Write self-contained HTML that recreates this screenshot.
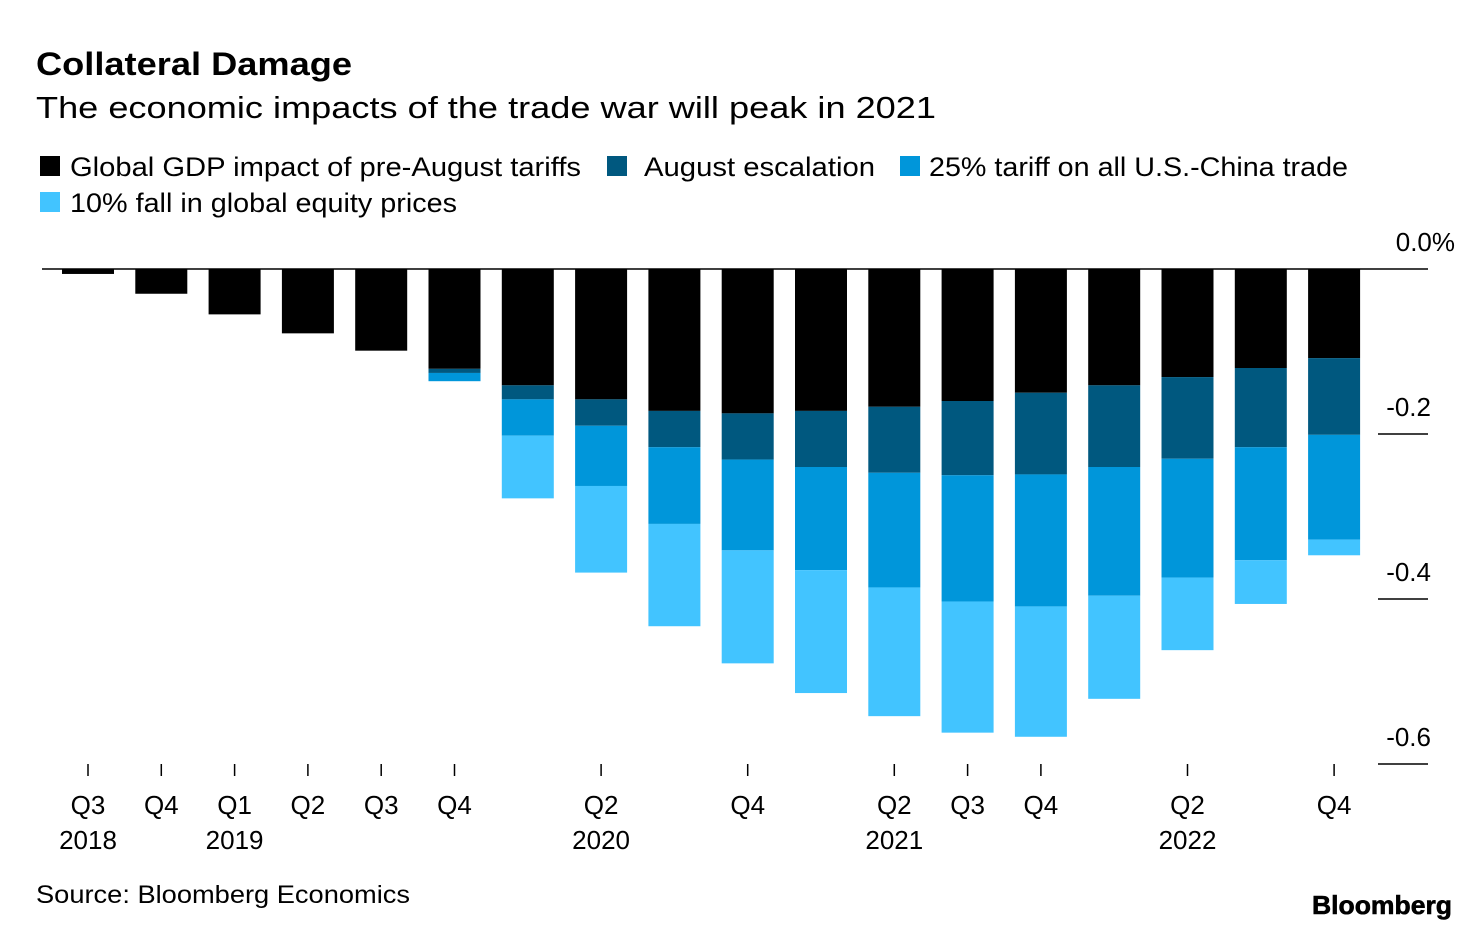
<!DOCTYPE html>
<html><head><meta charset="utf-8"><style>
body{margin:0;background:#fff;font-family:"Liberation Sans",Arial,sans-serif;}
svg text{font-family:"Liberation Sans",Arial,sans-serif;}
</style></head><body>
<svg id="c" width="1480" height="924" xmlns="http://www.w3.org/2000/svg">
<text x="36" y="75" font-size="32" font-weight="bold" fill="#000" textLength="316" lengthAdjust="spacingAndGlyphs">Collateral Damage</text>
<text x="36" y="118" font-size="31" fill="#000" textLength="900" lengthAdjust="spacingAndGlyphs">The economic impacts of the trade war will peak in 2021</text>
<g font-size="27">
<rect x="40" y="156" width="20" height="20" fill="#000"/>
<text x="70" y="176" textLength="511" lengthAdjust="spacingAndGlyphs">Global GDP impact of pre-August tariffs</text>
<rect x="607" y="156" width="20" height="20" fill="#00587f"/>
<text x="644" y="176" textLength="231" lengthAdjust="spacingAndGlyphs">August escalation</text>
<rect x="900" y="156" width="20" height="20" fill="#0096da"/>
<text x="929" y="176" textLength="419" lengthAdjust="spacingAndGlyphs">25% tariff on all U.S.-China trade</text>
<rect x="40" y="192" width="20" height="20" fill="#42c4ff"/>
<text x="70" y="212" textLength="387" lengthAdjust="spacingAndGlyphs">10% fall in global equity prices</text>
</g>
<g id="bars"></g>
<g id="axes"></g>
<text x="36" y="903" font-size="25" textLength="374" lengthAdjust="spacingAndGlyphs">Source: Bloomberg Economics</text>
<text x="1312" y="914" font-size="26" font-weight="bold" textLength="140" lengthAdjust="spacingAndGlyphs" stroke="#000" stroke-width="0.6">Bloomberg</text>
</svg>
<script>
const categories=["Q3 2018","Q4 2018","Q1 2019","Q2 2019","Q3 2019","Q4 2019","Q1 2020","Q2 2020","Q3 2020","Q4 2020","Q1 2021","Q2 2021","Q3 2021","Q4 2021","Q1 2022","Q2 2022","Q3 2022","Q4 2022"];
const preAugust=[-0.006,-0.030,-0.055,-0.078,-0.099,-0.121,-0.141,-0.158,-0.172,-0.175,-0.172,-0.167,-0.160,-0.150,-0.141,-0.131,-0.120,-0.108];
const augustEsc=[0,0,0,0,0,-0.005,-0.017,-0.032,-0.044,-0.056,-0.068,-0.080,-0.090,-0.099,-0.099,-0.099,-0.096,-0.093];
const tariff25=[0,0,0,0,0,-0.010,-0.044,-0.073,-0.093,-0.110,-0.125,-0.139,-0.153,-0.160,-0.156,-0.144,-0.137,-0.127];
const equity10=[0,0,0,0,0,0,-0.076,-0.105,-0.124,-0.137,-0.149,-0.156,-0.159,-0.158,-0.125,-0.088,-0.053,-0.019];
const yTicks=[0,-0.2,-0.4,-0.6];
const yTickLabels=["0.0%","-0.2","-0.4","-0.6"];
const xTickIdx=[0,1,2,3,4,5,7,9,11,12,13,15,17];
const xTickQ=["Q3","Q4","Q1","Q2","Q3","Q4","Q2","Q4","Q2","Q3","Q4","Q2","Q4"];
const xTickYear=["2018","","2019","","","","2020","","2021","","","2022",""];

const NS="http://www.w3.org/2000/svg";
const y=v=>269-v*825;
const x=i=>88+i*73.3;
const bw=52;
const series=[[preAugust,"#000","pre-august"],[augustEsc,"#00587f","august"],[tariff25,"#0096da","25pct"],[equity10,"#42c4ff","equity"]];
const bars=document.getElementById("bars");
function mk(t,a){const e=document.createElementNS(NS,t);for(const k in a)e.setAttribute(k,a[k]);return e;}
categories.forEach((c,i)=>{
  let cum=0;
  series.forEach(([arr,col,nm])=>{
    const v=arr[i];const y0=y(cum);cum+=v;const y1=y(cum);
    if(y1-y0<=0)return;
    const r=mk("rect",{x:x(i)-bw/2,y:y0,width:bw,height:y1-y0,fill:col});
    
    
    bars.appendChild(r);
  });
});
const ax=document.getElementById("axes");
const zl=mk("line",{x1:42,x2:1428,y1:269,y2:269,stroke:"#000","stroke-width":1.5});


ax.appendChild(zl);
yTicks.forEach((v,i)=>{
  if(v!==0){
    const l=mk("line",{x1:1378,x2:1428,y1:y(v),y2:y(v),stroke:"#000","stroke-width":1.5});
    
    
    ax.appendChild(l);
  }
  const t=mk("text",{x:v===0?1455:1431,y:y(v)-18,"font-size":26,"text-anchor":"end"});
  t.textContent=yTickLabels[i];
  
  
  ax.appendChild(t);
});
xTickIdx.forEach((ci,k)=>{
  const l=mk("line",{x1:x(ci),x2:x(ci),y1:764,y2:776,stroke:"#000","stroke-width":1.5});
  
  
  ax.appendChild(l);
  const t=mk("text",{x:x(ci),y:814,"font-size":26,"text-anchor":"middle"});
  t.textContent=xTickQ[k];
  
  
  ax.appendChild(t);
  if(xTickYear[k]){
    const t2=mk("text",{x:x(ci),y:849,"font-size":26,"text-anchor":"middle"});
    t2.textContent=xTickYear[k];
    
    
    ax.appendChild(t2);
  }
});
</script>
</body></html>
